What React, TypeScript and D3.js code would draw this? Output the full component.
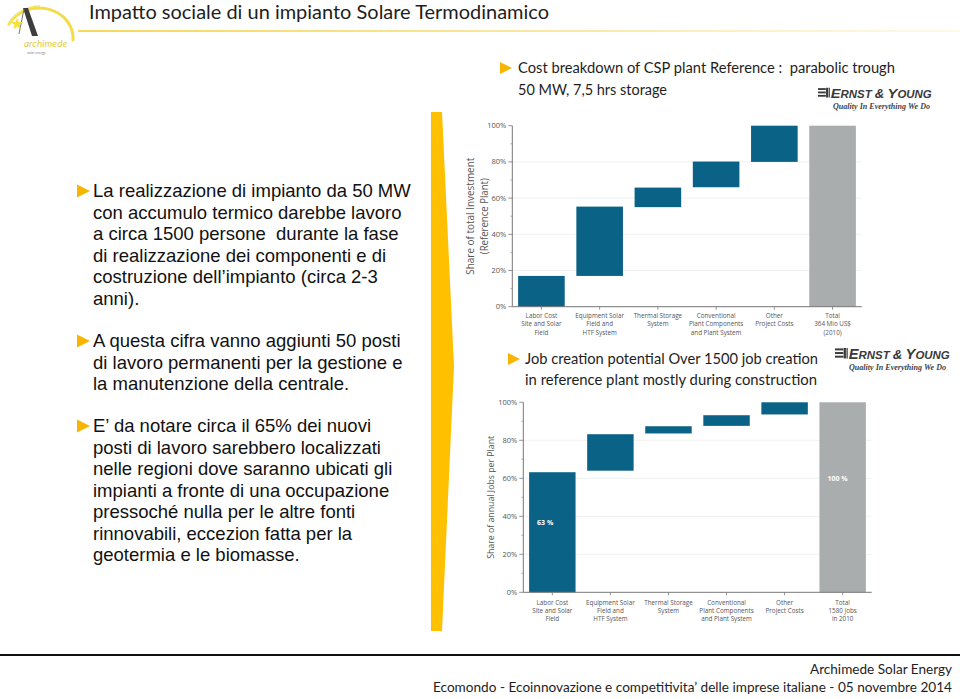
import React from 'react';
import * as d3 from 'd3';

// ---------- DATA ----------
const costCategories: string[][] = [
  ['Labor Cost', 'Site and Solar', 'Field'],
  ['Equipment Solar', 'Field and', 'HTF System'],
  ['Thermal Storage', 'System'],
  ['Conventional', 'Plant Components', 'and Plant System'],
  ['Other', 'Project Costs'],
  ['Total', '364 Mio US$', '(2010)'],
];
const costStart = [0, 17, 55, 66, 80, 0];
const costEnd = [17, 55.3, 65.8, 80.2, 100, 100];
const costBarLabels = ['', '', '', '', '', ''];
const costLabelPos = [0, 0, 0, 0, 0, 0];

const jobCategories: string[][] = [
  ['Labor Cost', 'Site and Solar', 'Field'],
  ['Equipment Solar', 'Field and', 'HTF System'],
  ['Thermal Storage', 'System'],
  ['Conventional', 'Plant Components', 'and Plant System'],
  ['Other', 'Project Costs'],
  ['Total', '1580 Jobs', 'in 2010'],
];
const jobStart = [0, 64, 83.6, 87.6, 93.6, 0];
const jobEnd = [63.2, 83.2, 87.4, 93.2, 100, 100];
const jobBarLabels = ['63 %', '', '', '', '', '100 %'];
const jobLabelPos = [37, 0, 0, 0, 0, 60];

const yTicks = [0, 20, 40, 60, 80, 100];
const yMinorTicks = [10, 30, 50, 70, 90];
const yTickLabels = ['0%', '20%', '40%', '60%', '80%', '100%'];

const para1 = [
  'La realizzazione di impianto da 50 MW',
  'con accumulo termico darebbe lavoro',
  'a circa 1500 persone  durante la fase',
  'di realizzazione dei componenti e di',
  'costruzione dell’impianto (circa 2-3',
  'anni).',
];
const para2 = [
  'A questa cifra vanno aggiunti 50 posti',
  'di lavoro permanenti per la gestione e',
  'la manutenzione della centrale.',
];
const para3 = [
  'E’ da notare circa il 65% dei nuovi',
  'posti di lavoro sarebbero localizzati',
  'nelle regioni dove saranno ubicati gli',
  'impianti a fronte di una occupazione',
  'pressoché nulla per le altre fonti',
  'rinnovabili, eccezion fatta per la',
  'geotermia e le biomasse.',
];

const BLUE = '#0b6287';
const GRAY = '#a9adad';
const YELLOW = '#F7B500';
const CHART_FONT = '"Open Sans", "Noto Sans", sans-serif';
const SLIDE_FONT = 'Lato, "Open Sans", sans-serif';

type ChartProps = {
  axisX: number;
  axisRight: number;
  yTop: number;
  yBottom: number;
  categories: string[][];
  starts: number[];
  ends: number[];
  barLabels: string[];
  labelPos: number[];
  titleLines: string[];
  titleX: number[];
  titleLen: number[];
  titleSize: number;
  catY: number;
};

function Waterfall(p: ChartProps) {
  const x = d3
    .scaleBand<number>()
    .domain(d3.range(p.categories.length))
    .range([p.axisX, p.axisRight])
    .paddingInner(0.2)
    .paddingOuter(0.1);
  const y = d3.scaleLinear().domain([0, 100]).range([p.yBottom, p.yTop]);
  const midY = (p.yTop + p.yBottom) / 2;
  return (
    <g>
      {yTicks.slice(1, -1).map((t) => (
        <line key={'g' + t} x1={p.axisX} x2={p.axisRight} y1={y(t)} y2={y(t)} stroke="#eeeeee" strokeWidth={0.8} />
      ))}
      {p.categories.map((c, i) => (
        <rect
          key={'b' + i}
          x={x(i)}
          y={y(p.ends[i])}
          width={x.bandwidth()}
          height={y(p.starts[i]) - y(p.ends[i])}
          fill={i === p.categories.length - 1 ? GRAY : BLUE}
        />
      ))}
      {p.barLabels.map((l, i) =>
        l ? (
          <text
            key={'l' + i}
            x={(x(i) as number) + 8}
            y={y(p.labelPos[i]) + 2.5}
            fontSize={7}
            fontWeight="bold"
            fill="#ffffff"
            fontFamily={CHART_FONT}
          >
            {l}
          </text>
        ) : null
      )}
      <line x1={p.axisX} x2={p.axisX} y1={p.yTop} y2={p.yBottom} stroke="#777" strokeWidth={1} />
      <line x1={p.axisX} x2={p.axisRight} y1={p.yBottom} y2={p.yBottom} stroke="#777" strokeWidth={1} />
      {yTicks.map((t, i) => (
        <g key={'t' + t}>
          <line x1={p.axisX - 4} x2={p.axisX} y1={y(t)} y2={y(t)} stroke="#777" strokeWidth={0.8} />
          <text
            x={p.axisX - 6}
            y={y(t) + 2.5}
            textAnchor="end"
            fontSize={7.5}
            fill="#555"
            fontFamily={CHART_FONT}
          >
            {yTickLabels[i]}
          </text>
        </g>
      ))}
      {yMinorTicks.map((t) => (
        <line key={'m' + t} x1={p.axisX - 2} x2={p.axisX} y1={y(t)} y2={y(t)} stroke="#888" strokeWidth={0.6} />
      ))}
      {p.categories.map((c, i) => {
        const cx = (x(i) as number) + x.bandwidth() / 2;
        return (
          <g key={'c' + i}>
            <line x1={cx} x2={cx} y1={p.yBottom} y2={p.yBottom + 3} stroke="#777" strokeWidth={0.8} />
            {c.map((line, j) => (
              <text
                key={j}
                x={cx}
                y={p.catY + j * 8.3}
                textAnchor="middle"
                fontSize={6.3}
                fill="#555"
                fontFamily={CHART_FONT}
              >
                {line}
              </text>
            ))}
          </g>
        );
      })}
      {p.titleLines.map((t, j) => (
        <text
          key={'yt' + j}
          transform={`translate(${p.titleX[j]},${midY}) rotate(-90)`}
          textAnchor="middle"
          fontSize={p.titleSize}
          fill="#555"
          fontFamily={CHART_FONT}
          textLength={p.titleLen[j]}
          lengthAdjust="spacingAndGlyphs"
        >
          {t}
        </text>
      ))}
    </g>
  );
}

function Bullet({ x, y, s = 13 }: { x: number; y: number; s?: number }) {
  return <polygon points={`${x},${y - s / 2} ${x + s},${y} ${x},${y + s / 2}`} fill={YELLOW} />;
}

function EYLogo({ x, y, len, tagX, tagLen, size }: { x: number; y: number; len: number; tagX: number; tagLen: number; size: number }) {
  return (
    <g fill="#3a3a3a">
      {[0, 1, 2].map((k) => (
        <rect key={k} x={x} y={y - size * 0.72 + k * size * 0.26} width={size * 0.6} height={size * 0.14} />
      ))}
      <rect x={x + size * 0.62} y={y - size * 0.75} width={size * 0.16} height={size * 0.75} />
      <rect x={x + size * 0.82} y={y - size * 0.75} width={size * 0.09} height={size * 0.75} />
      <text
        x={x + size * 0.98}
        y={y}
        fontFamily='"Liberation Sans", Arial, sans-serif'
        fontStyle="italic"
        fontWeight="bold"
        fontSize={size * 0.82}
        textLength={len}
        lengthAdjust="spacingAndGlyphs"
      >
        <tspan fontSize={size * 1.05}>E</tspan>RNST <tspan fontSize={size * 0.95}>&amp;</tspan> <tspan fontSize={size * 1.05}>Y</tspan>OUNG
      </text>
      <text
        x={tagX}
        y={y + 11}
        fontFamily='"Liberation Serif", serif'
        fontStyle="italic"
        fontWeight="bold"
        fontSize={7.5}
        textLength={tagLen}
        lengthAdjust="spacingAndGlyphs"
        fill="#444"
      >
        Quality In Everything We Do
      </text>
    </g>
  );
}

function ArchLogo() {
  const star = d3.range(10).map((k) => {
    const r = k % 2 === 0 ? 6.5 : 2.6;
    const a = (Math.PI / 5) * k - Math.PI / 2;
    return [17 + r * Math.cos(a), 24 + r * Math.sin(a)];
  });
  return (
    <g>
      <path d="M 9 24 A 34 30 0 0 1 73 40" fill="none" stroke="#F3DC4A" strokeWidth={3} strokeLinecap="round" />
      <path d="M 8 26 A 34 30 0 0 1 40 6" fill="none" stroke="#F6E56A" strokeWidth={1.5} />
      <polygon points="23,8 28,8 38,36 32,36" fill="#3d3d3d" />
      <line x1="24" y1="9" x2="19" y2="34" stroke="#777" strokeWidth={1} />
      <polygon points={star.map((p) => p.join(',')).join(' ')} fill="#F5E13A" />
      <text x={24} y={47} fontSize={10} fontStyle="italic" fill="#E4CD3E" fontFamily={SLIDE_FONT}>
        archimede
      </text>
      <text x={27} y={54} fontSize={3.5} fill="#888" fontFamily={SLIDE_FONT}>
        solar energy
      </text>
    </g>
  );
}

function Paragraph({ lines, x, y0 }: { lines: string[]; x: number; y0: number }) {
  return (
    <g>
      <Bullet x={77} y={y0 - 6} />
      {lines.map((l, i) => (
        <text
          key={i}
          x={x}
          y={y0 + i * 21.5}
          fontSize={18.5}
          fill="#111"
          fontFamily='"Liberation Sans", Arial, sans-serif'
          style={{ whiteSpace: 'pre' }}
        >
          {l}
        </text>
      ))}
    </g>
  );
}

export default function App() {
  return (
    <svg
      width={960}
      height={699}
      viewBox="0 0 960 699"
      style={{ position: 'absolute', left: 0, top: 0, display: 'block', background: '#fff' }}
    >
      <defs>
        <linearGradient id="titleLine" x1="0" x2="1" y1="0" y2="0">
          <stop offset="0" stopColor="#F6D85A" stopOpacity={1} />
          <stop offset="0.6" stopColor="#F9E7A0" stopOpacity={0.9} />
          <stop offset="1" stopColor="#FBF0C8" stopOpacity={0.4} />
        </linearGradient>
      </defs>
      <rect width={960} height={699} fill="#ffffff" />
      <ArchLogo />
      <text
        x={89}
        y={19}
        fontSize={19.5}
        fill="#1e1e1e"
        fontFamily={SLIDE_FONT}
        textLength={460}
        lengthAdjust="spacingAndGlyphs"
      >
        Impatto sociale di un impianto Solare Termodinamico
      </text>
      <rect x={78} y={30} width={882} height={2} fill="url(#titleLine)" />

      {/* left text */}
      <Paragraph lines={para1} x={93} y0={197} />
      <Paragraph lines={para2} x={93} y0={347} />
      <Paragraph lines={para3} x={93} y0={432} />

      {/* yellow chevron */}
      <polygon points="431,112 442,112 454,366 442,631 431,631" fill="#FFC000" />

      {/* top header */}
      <Bullet x={500} y={68} s={12} />
      <text x={518} y={73} fontSize={14.5} fill="#1e1e1e" fontFamily={SLIDE_FONT} textLength={377} lengthAdjust="spacingAndGlyphs" style={{ whiteSpace: 'pre' }}>
        {'Cost breakdown of CSP plant Reference :  parabolic trough'}
      </text>
      <text x={518} y={94.5} fontSize={14.5} fill="#1e1e1e" fontFamily={SLIDE_FONT} textLength={149} lengthAdjust="spacingAndGlyphs">
        50 MW, 7,5 hrs storage
      </text>
      <EYLogo x={818} y={97.5} len={101} tagX={833} tagLen={97} size={13} />

      <Waterfall
        axisX={512.3}
        axisRight={861.7}
        yTop={125.7}
        yBottom={306.7}
        categories={costCategories}
        starts={costStart}
        ends={costEnd}
        barLabels={costBarLabels}
        labelPos={costLabelPos}
        titleLines={['Share of total Investment', '(Reference Plant)']}
        titleX={[474, 487.5]}
        titleLen={[117, 76]}
        titleSize={11}
        catY={318}
      />

      {/* bottom header */}
      <Bullet x={508} y={359} s={12} />
      <text x={525} y={364} fontSize={15} fill="#1e1e1e" fontFamily={SLIDE_FONT} textLength={293} lengthAdjust="spacingAndGlyphs">
        Job creation potential Over 1500 job creation
      </text>
      <text x={525} y={385} fontSize={15} fill="#1e1e1e" fontFamily={SLIDE_FONT} textLength={292} lengthAdjust="spacingAndGlyphs">
        in reference plant mostly during construction
      </text>
      <EYLogo x={835} y={358.5} len={101} tagX={849} tagLen={97} size={14} />

      <Waterfall
        axisX={523.3}
        axisRight={871.7}
        yTop={402.3}
        yBottom={592.3}
        categories={jobCategories}
        starts={jobStart}
        ends={jobEnd}
        barLabels={jobBarLabels}
        labelPos={jobLabelPos}
        titleLines={['Share of annual Jobs per Plant']}
        titleX={[494]}
        titleLen={[123]}
        titleSize={9.5}
        catY={604.5}
      />

      {/* footer */}
      <line x1={0} x2={960} y1={655} y2={655} stroke="#111" strokeWidth={2} />
      <text x={810} y={674} fontSize={14} fill="#1e1e1e" fontFamily={SLIDE_FONT} textLength={142} lengthAdjust="spacingAndGlyphs">
        Archimede Solar Energy
      </text>
      <text x={433} y={692} fontSize={13.5} fill="#1e1e1e" fontFamily={SLIDE_FONT} textLength={519} lengthAdjust="spacingAndGlyphs">
        Ecomondo - Ecoinnovazione e competitivita’ delle imprese italiane - 05 novembre 2014
      </text>
    </svg>
  );
}
